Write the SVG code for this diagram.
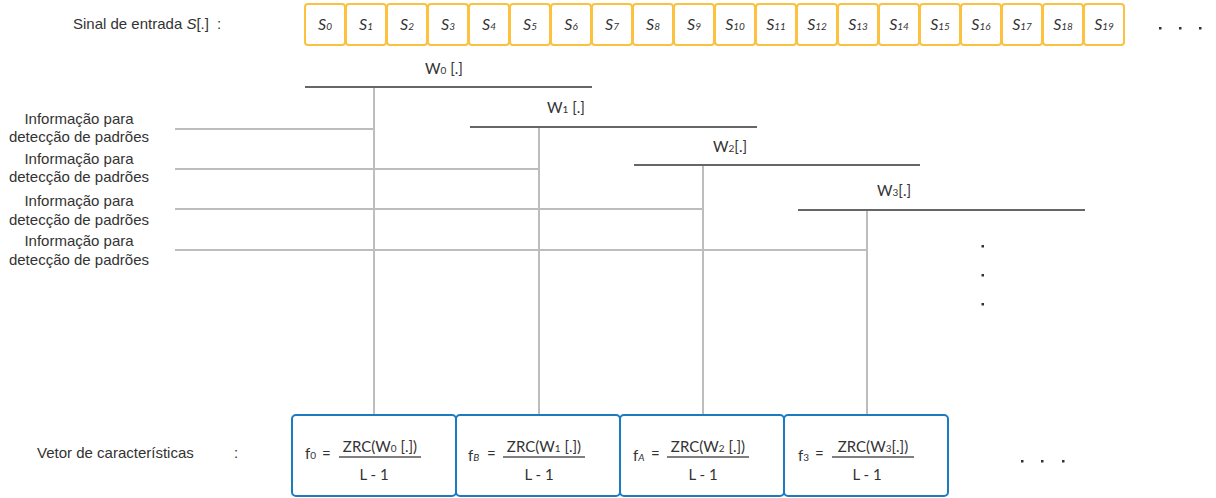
<svg xmlns="http://www.w3.org/2000/svg" width="1216" height="498" viewBox="0 0 1216 498">
  <style>
    .lbl { font-family: "Liberation Sans", Arial, sans-serif; font-size: 15px; fill: #333; }
    .win { font-family: Lato, "Liberation Sans", sans-serif; font-size: 15px; fill: #333; }
    .sig { fill: #fff; stroke: #FBC13F; stroke-width: 2; }
    .stxt { font-family: Lato, "Liberation Sans", sans-serif; font-style: italic; font-size: 16px; fill: #333; text-anchor: middle; }
    .sub { font-size: 10px; }
    .wline { stroke: #666; stroke-width: 2; fill: none; }
    .conn { stroke: #BDBDBD; stroke-width: 2; fill: none; }
    .feat { fill: #fff; stroke: #1C7BC0; stroke-width: 2; }
    .frac { stroke: #555; stroke-width: 1.5; }
    .dot { fill: #333; }
  </style>

  <!-- input signal -->
  <text class="lbl" x="73" y="29">Sinal de entrada <tspan font-style="italic">S</tspan>[.]</text>
  <text class="lbl" x="217" y="29">:</text>
  <g id="signal">
    <g id="s0"><rect class="sig" x="305" y="4" width="40" height="41" rx="3"/><text class="stxt" x="325" y="30">S<tspan class="sub">0</tspan></text></g>
    <g id="s1"><rect class="sig" x="346" y="4" width="40" height="41" rx="3"/><text class="stxt" x="366" y="30">S<tspan class="sub">1</tspan></text></g>
    <g id="s2"><rect class="sig" x="387" y="4" width="40" height="41" rx="3"/><text class="stxt" x="407" y="30">S<tspan class="sub">2</tspan></text></g>
    <g id="s3"><rect class="sig" x="428" y="4" width="40" height="41" rx="3"/><text class="stxt" x="448" y="30">S<tspan class="sub">3</tspan></text></g>
    <g id="s4"><rect class="sig" x="469" y="4" width="40" height="41" rx="3"/><text class="stxt" x="489" y="30">S<tspan class="sub">4</tspan></text></g>
    <g id="s5"><rect class="sig" x="510" y="4" width="40" height="41" rx="3"/><text class="stxt" x="530" y="30">S<tspan class="sub">5</tspan></text></g>
    <g id="s6"><rect class="sig" x="551" y="4" width="40" height="41" rx="3"/><text class="stxt" x="571" y="30">S<tspan class="sub">6</tspan></text></g>
    <g id="s7"><rect class="sig" x="592" y="4" width="40" height="41" rx="3"/><text class="stxt" x="612" y="30">S<tspan class="sub">7</tspan></text></g>
    <g id="s8"><rect class="sig" x="633" y="4" width="40" height="41" rx="3"/><text class="stxt" x="653" y="30">S<tspan class="sub">8</tspan></text></g>
    <g id="s9"><rect class="sig" x="674" y="4" width="40" height="41" rx="3"/><text class="stxt" x="694" y="30">S<tspan class="sub">9</tspan></text></g>
    <g id="s10"><rect class="sig" x="715" y="4" width="40" height="41" rx="3"/><text class="stxt" x="735" y="30">S<tspan class="sub">10</tspan></text></g>
    <g id="s11"><rect class="sig" x="756" y="4" width="40" height="41" rx="3"/><text class="stxt" x="776" y="30">S<tspan class="sub">11</tspan></text></g>
    <g id="s12"><rect class="sig" x="797" y="4" width="40" height="41" rx="3"/><text class="stxt" x="817" y="30">S<tspan class="sub">12</tspan></text></g>
    <g id="s13"><rect class="sig" x="838" y="4" width="40" height="41" rx="3"/><text class="stxt" x="858" y="30">S<tspan class="sub">13</tspan></text></g>
    <g id="s14"><rect class="sig" x="879" y="4" width="40" height="41" rx="3"/><text class="stxt" x="899" y="30">S<tspan class="sub">14</tspan></text></g>
    <g id="s15"><rect class="sig" x="920" y="4" width="40" height="41" rx="3"/><text class="stxt" x="940" y="30">S<tspan class="sub">15</tspan></text></g>
    <g id="s16"><rect class="sig" x="961" y="4" width="40" height="41" rx="3"/><text class="stxt" x="981" y="30">S<tspan class="sub">16</tspan></text></g>
    <g id="s17"><rect class="sig" x="1002" y="4" width="40" height="41" rx="3"/><text class="stxt" x="1022" y="30">S<tspan class="sub">17</tspan></text></g>
    <g id="s18"><rect class="sig" x="1043" y="4" width="40" height="41" rx="3"/><text class="stxt" x="1063" y="30">S<tspan class="sub">18</tspan></text></g>
    <g id="s19"><rect class="sig" x="1084" y="4" width="40" height="41" rx="3"/><text class="stxt" x="1104" y="30">S<tspan class="sub">19</tspan></text></g>
  </g>
  <g id="signal-dots">
    <rect class="dot" x="1159" y="27" width="2.5" height="2.5"/>
    <rect class="dot" x="1179" y="27" width="2.5" height="2.5"/>
    <rect class="dot" x="1199" y="27" width="2.5" height="2.5"/>
  </g>

  <!-- pattern info labels -->
  <g id="info-labels" class="lbl" text-anchor="middle">
    <text x="79" y="124">Informação para</text>
    <text x="79" y="142">detecção de padrões</text>
    <text x="79" y="164">Informação para</text>
    <text x="79" y="182">detecção de padrões</text>
    <text x="79" y="206">Informação para</text>
    <text x="79" y="225">detecção de padrões</text>
    <text x="79" y="246">Informação para</text>
    <text x="79" y="265">detecção de padrões</text>
  </g>

  <!-- connectors -->
  <g id="connectors">
    <line class="conn" x1="175" y1="129" x2="374" y2="129"/>
    <line class="conn" x1="175" y1="169" x2="539" y2="169"/>
    <line class="conn" x1="175" y1="209" x2="703" y2="209"/>
    <line class="conn" x1="175" y1="250" x2="867" y2="250"/>
    <line class="conn" x1="374" y1="88" x2="374" y2="415"/>
    <line class="conn" x1="539" y1="128" x2="539" y2="415"/>
    <line class="conn" x1="703" y1="166" x2="703" y2="415"/>
    <line class="conn" x1="867" y1="211" x2="867" y2="415"/>
  </g>

  <!-- windows -->
  <g id="w0"><line class="wline" x1="305" y1="87" x2="592" y2="87"/><text class="win" x="425" y="74">W<tspan class="sub">0</tspan> [.]</text></g>
  <g id="w1"><line class="wline" x1="470" y1="127" x2="757" y2="127"/><text class="win" x="547" y="113">W<tspan class="sub">1</tspan> [.]</text></g>
  <g id="w2"><line class="wline" x1="634" y1="165" x2="920" y2="165"/><text class="win" x="713" y="152">W<tspan class="sub">2</tspan>[.]</text></g>
  <g id="w3"><line class="wline" x1="798" y1="210" x2="1085" y2="210"/><text class="win" x="877" y="196">W<tspan class="sub">3</tspan>[.]</text></g>

  <g id="window-dots">
    <rect class="dot" x="981.5" y="245" width="2.5" height="2.5"/>
    <rect class="dot" x="981.5" y="274" width="2.5" height="2.5"/>
    <rect class="dot" x="981.5" y="303" width="2.5" height="2.5"/>
  </g>

  <!-- feature vector -->
  <text class="lbl" x="37" y="458">Vetor de características</text>
  <text class="lbl" x="234" y="458">:</text>

  <g id="f0">
    <rect class="feat" x="292" y="415" width="164" height="81" rx="4"/>
    <text class="win" x="305" y="459">f<tspan class="sub">0</tspan></text>
    <text class="win" x="322" y="459">=</text>
    <text class="win" x="380" y="452" text-anchor="middle">ZRC(W<tspan class="sub">0</tspan> [.])</text>
    <line class="frac" x1="339" y1="457" x2="421" y2="457"/>
    <text class="win" x="374" y="480" text-anchor="middle">L - 1</text>
  </g>
  <g id="fB">
    <rect class="feat" x="456" y="415" width="164" height="81" rx="4"/>
    <text class="win" x="468" y="461">f<tspan class="sub" font-style="italic">B</tspan></text>
    <text class="win" x="487" y="459">=</text>
    <text class="win" x="544" y="452" text-anchor="middle">ZRC(W<tspan class="sub">1</tspan> [.])</text>
    <line class="frac" x1="503" y1="457" x2="585" y2="457"/>
    <text class="win" x="539" y="480" text-anchor="middle">L - 1</text>
  </g>
  <g id="fA">
    <rect class="feat" x="620" y="415" width="164" height="81" rx="4"/>
    <text class="win" x="633" y="461">f<tspan class="sub" font-style="italic">A</tspan></text>
    <text class="win" x="651" y="459">=</text>
    <text class="win" x="708" y="452" text-anchor="middle">ZRC(W<tspan class="sub">2</tspan> [.])</text>
    <line class="frac" x1="667" y1="457" x2="749" y2="457"/>
    <text class="win" x="703" y="480" text-anchor="middle">L - 1</text>
  </g>
  <g id="f3">
    <rect class="feat" x="784" y="415" width="164" height="81" rx="4"/>
    <text class="win" x="798" y="461">f<tspan class="sub">3</tspan></text>
    <text class="win" x="815" y="459">=</text>
    <text class="win" x="873" y="452" text-anchor="middle">ZRC(W<tspan class="sub">3</tspan>[.])</text>
    <line class="frac" x1="832" y1="457" x2="914" y2="457"/>
    <text class="win" x="867" y="480" text-anchor="middle">L - 1</text>
  </g>

  <g id="feature-dots">
    <rect class="dot" x="1021" y="460" width="2.5" height="2.5"/>
    <rect class="dot" x="1041" y="460" width="2.5" height="2.5"/>
    <rect class="dot" x="1062" y="460" width="2.5" height="2.5"/>
  </g>
</svg>
